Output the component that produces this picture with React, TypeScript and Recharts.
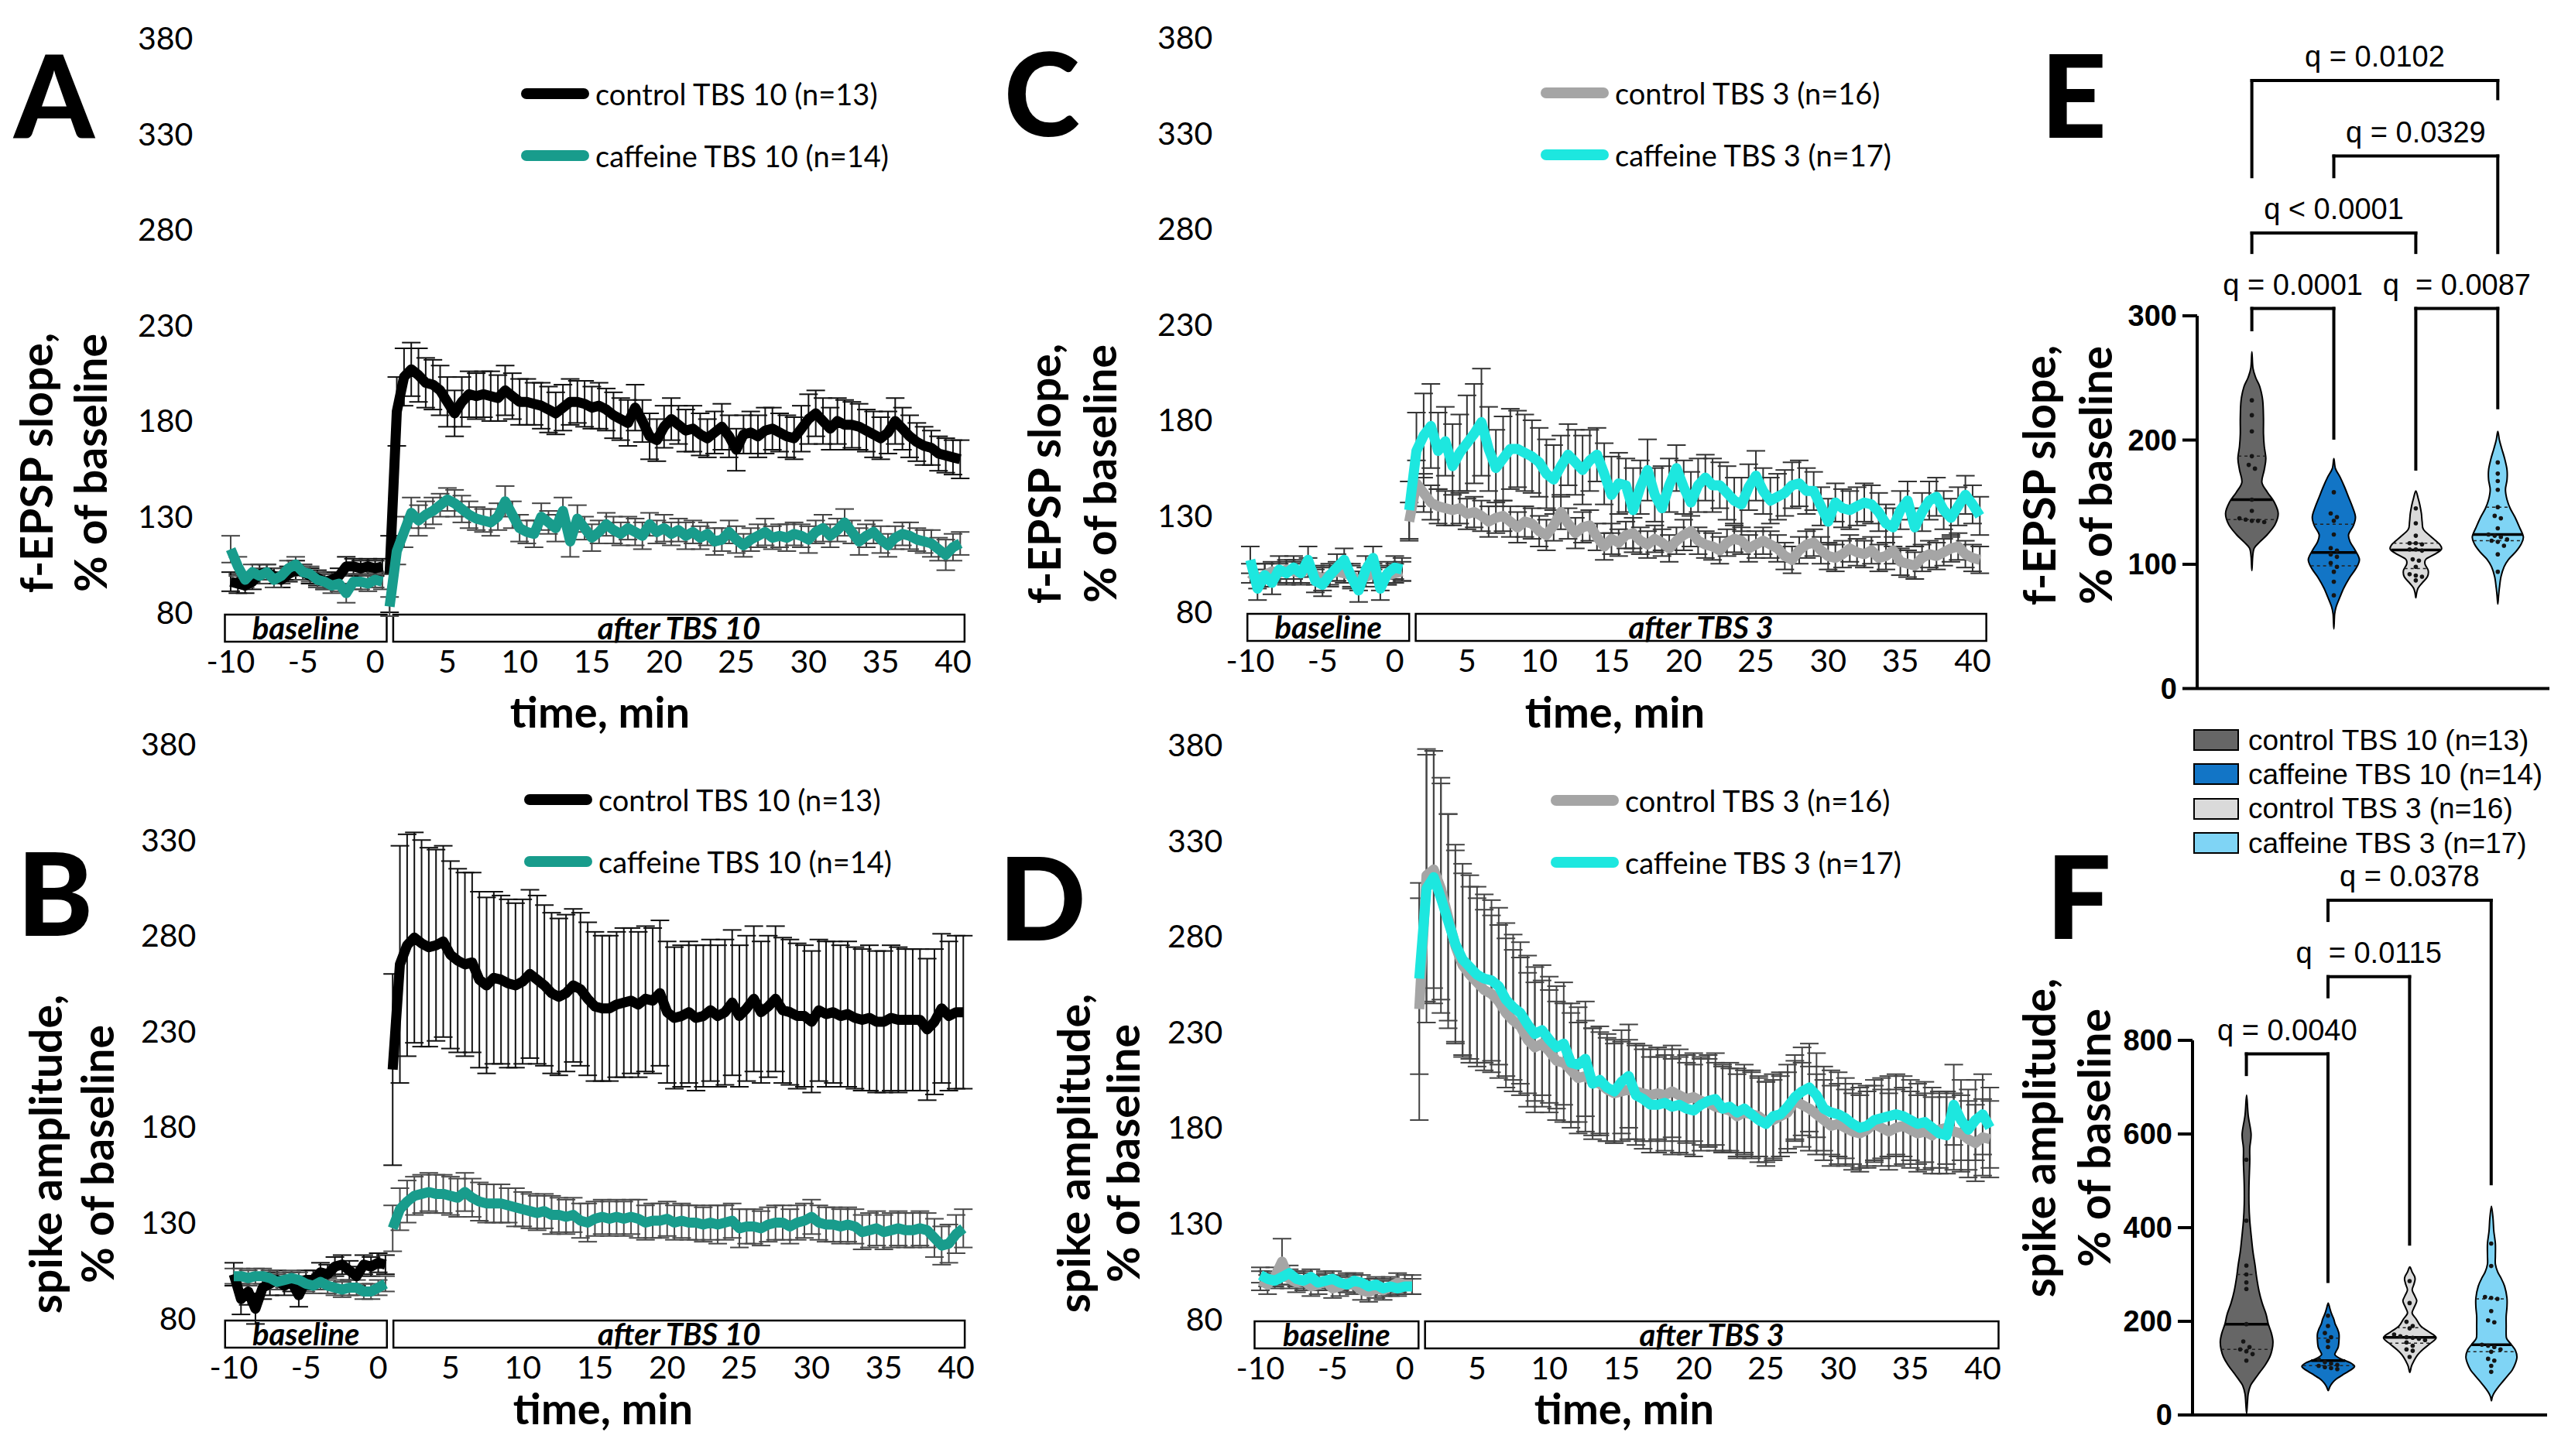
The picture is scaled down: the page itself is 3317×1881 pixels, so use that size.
import {
  ComposedChart, Line, ErrorBar, XAxis, YAxis, ReferenceArea, ReferenceLine,
  Bar, Scatter, Legend,
} from 'recharts'

const LATO = 'Lato, "Open Sans", sans-serif'
const ARIAL = '"Liberation Sans", Arial, sans-serif'

const TEAL = '#189C8C'
const CYAN = '#1DE7DF'
const GREY = '#A5A5A5'
const V_DARK = '#666666'
const V_BLUE = '#1275C6'
const V_LIGHT = '#DADADA'
const V_SKY = '#7FD4F5'

const NAME_C10 = 'control TBS 10 (n=13)'
const NAME_F10 = 'caffeine TBS 10 (n=14)'
const NAME_C3 = 'control TBS 3 (n=16)'
const NAME_F3 = 'caffeine TBS 3 (n=17)'

// 30-s sampling: baseline block, then the post-TBS block
const BASE_T = Array.from({ length: 22 }, (_, i) => -10 + i * 0.5)
const POST_T = Array.from({ length: 80 }, (_, i) => 1 + i * 0.5)
const X_TICKS = [-10, -5, 0, 5, 10, 15, 20, 25, 30, 35, 40]
const Y_TICKS = [80, 130, 180, 230, 280, 330, 380]

// ---- A: f-EPSP slope, TBS 10 ----
const A_CTRL_BASE = [96, 95, 94, 96, 100, 101, 99, 97, 100, 102, 101, 99, 98, 96, 97, 99, 104, 104, 103, 104, 103, 104]
const A_CTRL_BASE_ERR = [5, 5, 4, 4, 5, 4, 4, 4, 4, 5, 4, 4, 4, 4, 4, 4, 5, 4, 4, 4, 4, 4]
const A_CTRL_POST = [
  100, 185, 203, 207, 204, 200, 199, 196, 190, 184,
  190, 194, 193, 194, 193, 192, 196, 193, 190, 190,
  189, 188, 186, 184, 187, 190, 190, 189, 187, 188,
  186, 183, 181, 179, 187, 180, 172, 170, 177, 181,
  178, 175, 176, 173, 171, 174, 177, 172, 165, 173,
  174, 172, 175, 176, 174, 172, 171, 176, 181, 184,
  180, 176, 180, 178, 178, 177, 175, 173, 171, 174,
  180, 176, 172, 169, 167, 166, 163, 162, 161, 160,
]
const A_CTRL_POST_ERR = [
  20, 18, 15, 14, 14, 13, 13, 13, 13, 12,
  13, 12, 12, 12, 13, 12, 13, 12, 12, 12,
  11, 12, 12, 11, 12, 12, 11, 12, 11, 12,
  11, 12, 11, 12, 12, 11, 12, 11, 11, 11,
  10, 11, 12, 11, 10, 11, 12, 11, 11, 10,
  11, 11, 12, 11, 10, 11, 11, 12, 13, 12,
  12, 11, 12, 13, 12, 12, 11, 12, 11, 11,
  12, 11, 11, 10, 10, 9, 9, 9, 9, 10,
]
const A_CAF_BASE = [113, 104, 97, 101, 99, 101, 97, 99, 103, 105, 101, 100, 97, 96, 94, 95, 90, 96, 96, 95, 97, 96]
const A_CAF_BASE_ERR = [7, 5, 4, 4, 4, 4, 4, 4, 4, 4, 4, 4, 4, 4, 4, 4, 5, 4, 4, 4, 4, 4]
const A_CAF_POST = [
  83, 112, 122, 132, 128, 131, 133, 136, 139, 137,
  134, 131, 129, 128, 127, 130, 138, 131, 124, 122,
  121, 130, 127, 124, 133, 117, 129, 124, 119, 122,
  126, 123, 121, 124, 122, 120, 126, 122, 124, 121,
  123, 120, 122, 119, 121, 117, 118, 122, 118, 115,
  118, 120, 122, 119, 120, 119, 121, 120, 118, 122,
  124, 120, 123, 127, 122, 117, 120, 122, 118, 115,
  119, 121, 120, 118, 117, 116, 113, 110, 114, 116,
]
const A_CAF_POST_ERR = [
  5, 7, 8, 8, 8, 7, 7, 6, 6, 7,
  7, 7, 6, 6, 7, 7, 8, 7, 7, 6,
  7, 7, 6, 7, 7, 8, 7, 6, 7, 6,
  6, 7, 6, 6, 7, 7, 6, 6, 7, 6,
  6, 7, 6, 6, 6, 7, 6, 6, 7, 6,
  6, 6, 7, 6, 6, 7, 6, 6, 7, 6,
  7, 6, 6, 7, 6, 7, 6, 6, 7, 6,
  6, 6, 7, 6, 6, 7, 6, 8, 7, 6,
]

// ---- B: spike amplitude, TBS 10 ----
const B_CTRL_BASE = [103, 90, 94, 85, 96, 98, 100, 97, 99, 92, 100, 100, 104, 103, 107, 108, 105, 102, 108, 107, 109, 108]
const B_CTRL_BASE_ERR = [6, 8, 7, 8, 6, 6, 5, 5, 5, 6, 5, 5, 5, 5, 5, 5, 5, 5, 5, 5, 5, 5]
const B_CTRL_POST = [
  210, 265, 275, 279, 276, 274, 275, 277, 270, 267,
  265, 266, 257, 254, 258, 257, 255, 254, 256, 260,
  257, 254, 250, 248, 250, 254, 252, 247, 243, 242,
  242, 244, 245, 246, 244, 247, 246, 250, 240, 237,
  238, 240, 237, 238, 241, 238, 240, 245, 238, 242,
  247, 240, 243, 247, 241, 240, 238, 238, 235, 241,
  239, 240, 238, 239, 237, 236, 237, 235, 235, 237,
  236, 236, 236, 236, 231, 235, 242, 238, 240, 240,
]
const B_CTRL_POST_ERR = [
  50, 62, 58, 55, 54, 52, 50, 50, 49, 48,
  48, 47, 46, 46, 45, 44, 44, 43, 43, 44,
  44, 42, 42, 41, 41, 40, 40, 40, 39, 38,
  38, 38, 39, 38, 38, 38, 38, 38, 37, 37,
  37, 37, 38, 37, 37, 37, 38, 38, 37, 38,
  38, 37, 37, 38, 38, 38, 38, 37, 37, 37,
  38, 37, 37, 38, 37, 37, 38, 37, 37, 38,
  38, 37, 37, 37, 37, 38, 39, 39, 40, 40,
]
const B_CAF_BASE = [102, 102, 101, 102, 102, 101, 99, 100, 101, 100, 98, 97, 99, 97, 96, 95, 96, 96, 94, 94, 96, 98]
const B_CAF_BASE_ERR = [4, 4, 4, 4, 4, 4, 4, 4, 4, 4, 4, 4, 4, 4, 4, 4, 4, 4, 4, 4, 4, 4]
const B_CAF_POST = [
  127, 137, 141, 144, 145, 146, 145, 145, 144, 143,
  146, 143, 141, 140, 140, 140, 139, 138, 137, 136,
  135, 136, 134, 134, 133, 134, 131, 130, 132, 133,
  132, 133, 132, 133, 132, 130, 131, 131, 132, 130,
  131, 130, 130, 129, 130, 129, 130, 131, 127, 128,
  128, 127, 129, 130, 130, 128, 130, 131, 133, 130,
  129, 129, 128, 129, 128, 125, 126, 127, 125, 126,
  127, 126, 126, 127, 126, 122, 118, 119, 124, 127,
]
const B_CAF_POST_ERR = [
  12, 11, 11, 10, 10, 10, 10, 10, 10, 10,
  10, 10, 10, 10, 10, 10, 9, 10, 9, 9,
  9, 9, 10, 9, 9, 9, 9, 10, 9, 9,
  9, 9, 9, 9, 10, 9, 9, 9, 9, 9,
  9, 9, 9, 9, 9, 10, 9, 9, 10, 9,
  9, 9, 9, 9, 9, 9, 9, 9, 9, 9,
  9, 9, 9, 9, 9, 9, 9, 9, 9, 9,
  9, 9, 9, 9, 9, 10, 10, 10, 10, 10,
]

// ---- C: f-EPSP slope, TBS 3 ----
const C_CTRL_BASE = [100, 97, 99, 101, 100, 102, 101, 100, 103, 99, 97, 99, 101, 100, 99, 96, 98, 100, 97, 99, 100, 101]
const C_CTRL_BASE_ERR = [5, 5, 6, 5, 5, 5, 6, 5, 5, 5, 6, 5, 5, 5, 6, 5, 5, 5, 6, 5, 5, 5]
const C_CTRL_POST = [
  127, 147, 142, 137, 135, 134, 133, 134, 131, 132,
  130, 127, 129, 130, 127, 124, 127, 126, 122, 120,
  125, 132, 126, 121, 124, 125, 119, 114, 118, 116,
  120, 121, 117, 115, 118, 116, 113, 117, 120, 122,
  117, 115, 114, 112, 116, 118, 117, 113, 115, 117,
  115, 113, 109, 107, 112, 115, 116, 112, 109, 108,
  110, 113, 111, 110, 112, 108, 109, 112, 106, 105,
  104, 108, 110, 109, 111, 113, 114, 110, 108, 107,
]
const C_CTRL_POST_ERR = [
  10, 12, 10, 9, 9, 9, 8, 8, 8, 8,
  8, 8, 8, 8, 8, 8, 8, 8, 8, 8,
  8, 9, 8, 8, 8, 8, 7, 7, 8, 7,
  7, 8, 7, 7, 7, 7, 7, 7, 8, 8,
  7, 7, 7, 7, 7, 7, 7, 7, 7, 7,
  7, 7, 7, 7, 7, 7, 7, 7, 7, 7,
  7, 7, 7, 7, 7, 7, 7, 7, 7, 7,
  7, 7, 7, 7, 7, 7, 7, 7, 7, 7,
]
const C_CAF_BASE = [107, 92, 99, 95, 102, 100, 103, 100, 107, 96, 94, 99, 103, 107, 98, 91, 102, 108, 92, 100, 103, 102]
const C_CAF_BASE_ERR = [7, 6, 6, 6, 7, 6, 6, 6, 7, 6, 6, 6, 7, 6, 6, 6, 7, 6, 6, 6, 6, 6]
const C_CAF_POST = [
  133, 164, 172, 177, 164, 169, 156, 163, 168, 173,
  179, 165, 155, 160, 165, 165, 163, 161, 158, 152,
  149, 156, 162, 158, 154, 159, 162, 152, 141, 147,
  146, 133, 145, 154, 141, 134, 146, 155, 145, 137,
  146, 150, 146, 146, 142, 138, 136, 145, 151, 143,
  138, 140, 142, 146, 147, 143, 143, 135, 127, 137,
  134, 133, 135, 137, 136, 132, 126, 124, 133, 138,
  124, 132, 138, 140, 133, 129, 135, 141, 136, 130,
]
const C_CAF_POST_ERR = [
  15, 20, 22, 22, 20, 18, 22, 20, 25, 26,
  28, 22, 20, 22, 21, 20, 20, 19, 18, 18,
  18, 16, 16, 17, 18, 16, 14, 16, 20, 16,
  14, 22, 14, 16, 14, 22, 14, 12, 14, 16,
  14, 12, 14, 12, 14, 12, 14, 12, 13, 12,
  12, 12, 12, 12, 12, 12, 10, 10, 12, 10,
  10, 10, 10, 10, 10, 10, 10, 10, 10, 10,
  10, 10, 10, 10, 10, 10, 10, 10, 10, 10,
]

// ---- D: spike amplitude, TBS 3 ----
const D_CTRL_BASE = [100, 98, 102, 110, 101, 99, 100, 97, 98, 100, 96, 97, 99, 98, 95, 94, 96, 95, 97, 99, 98, 98]
const D_CTRL_BASE_ERR = [5, 5, 5, 12, 5, 5, 5, 5, 5, 5, 5, 5, 5, 5, 5, 5, 5, 5, 5, 5, 5, 5]
const D_CTRL_POST = [
  242, 312, 315, 305, 290, 275, 265, 260, 256, 252,
  250, 246, 240, 236, 233, 226, 222, 224, 220, 215,
  214, 210, 206, 207, 204, 203, 200, 198, 199, 200,
  199, 198, 197, 198, 197, 199, 197, 195, 196, 194,
  193, 191, 190, 189, 186, 188, 187, 186, 183, 184,
  186, 188, 194, 192, 190, 187, 184, 181, 182, 180,
  178, 177, 179, 182, 180, 178, 180, 181, 179, 177,
  178, 176, 179, 180, 178, 177, 174, 172, 175, 174,
]
const D_CTRL_POST_ERR = [
  58, 66, 62, 58, 54, 50, 48, 46, 44, 42,
  41, 40, 39, 37, 36, 35, 34, 33, 32, 31,
  31, 30, 29, 29, 28, 27, 27, 26, 26, 26,
  25, 25, 24, 24, 24, 24, 24, 23, 23, 23,
  23, 23, 22, 22, 22, 22, 22, 21, 21, 21,
  21, 21, 21, 22, 22, 21, 21, 21, 21, 20,
  20, 20, 20, 20, 20, 20, 20, 20, 20, 20,
  20, 20, 20, 19, 20, 20, 20, 20, 20, 20,
]
const D_CAF_BASE = [103, 101, 100, 102, 104, 101, 100, 102, 99, 100, 101, 99, 98, 100, 99, 97, 98, 96, 97, 96, 97, 97]
const D_CAF_BASE_ERR = [4, 4, 4, 4, 4, 4, 4, 4, 4, 4, 4, 4, 4, 4, 4, 4, 4, 4, 4, 4, 4, 4]
const D_CAF_POST = [
  258, 305, 311, 300, 288, 276, 268, 264, 260, 258,
  257, 254, 247, 243, 240, 234, 229, 231, 226, 222,
  224, 214, 213, 216, 203, 205, 201, 199, 204, 207,
  197, 195, 192, 192, 193, 191, 192, 190, 189, 192,
  194, 195, 190, 191, 188, 190, 187, 184, 182, 186,
  187, 191, 196, 199, 201, 197, 190, 188, 187, 185,
  182, 180, 181, 184, 185, 186, 187, 186, 184, 182,
  183, 180, 177, 176, 192, 184, 179, 184, 187, 180,
]
const D_CAF_POST_ERR = [
  50, 70, 66, 60, 56, 52, 50, 48, 46, 44,
  42, 41, 40, 38, 37, 36, 35, 34, 33, 32,
  32, 31, 30, 30, 29, 28, 28, 27, 27, 27,
  26, 26, 25, 25, 25, 25, 25, 24, 24, 24,
  24, 24, 23, 23, 23, 23, 23, 22, 22, 22,
  22, 22, 22, 23, 23, 22, 22, 22, 22, 21,
  21, 21, 21, 21, 21, 21, 21, 21, 21, 21,
  21, 21, 21, 20, 21, 21, 21, 21, 21, 21,
]

// ---- E / F: per-slice values, % of baseline ----
const E_CTRL10 = [232, 220, 207, 187, 180, 177, 152, 143, 137, 136, 135, 135, 134]
const E_CAF10 = [158, 141, 138, 135, 124, 113, 111, 108, 106, 101, 98, 94, 86, 75]
const E_CTRL3 = [145, 133, 123, 117, 117, 116, 112, 112, 111, 104, 103, 98, 92, 91, 90, 87]
const E_CAF3 = [182, 173, 167, 160, 146, 139, 137, 129, 124, 123, 122, 120, 119, 118, 115, 108, 94]
const F_CTRL10 = [545, 415, 319, 300, 283, 269, 194, 157, 145, 140, 136, 130, 116]
const F_CAF10 = [212, 190, 175, 166, 158, 145, 119, 113, 110, 107, 105, 102, 100, 98]
const F_CTRL3 = [286, 239, 199, 190, 185, 172, 168, 166, 165, 163, 160, 155, 148, 140, 137, 124]
const F_CAF3 = [366, 318, 252, 250, 248, 222, 202, 198, 150, 148, 145, 140, 135, 120, 116, 105, 92]

// violin outlines: [value, relative density], top to bottom
const E_CTRL10_KDE = [[271, 0], [258, 0.04], [250, 0.15], [243, 0.3], [232, 0.41], [218, 0.44], [205, 0.44], [195, 0.47], [185, 0.53], [176, 0.47], [166, 0.38], [158, 0.59], [150, 0.85], [141, 1], [132, 0.88], [124, 0.59], [118, 0.3], [113, 0.09], [106, 0.03], [95, 0]]
const E_CAF10_KDE = [[185, 0], [177, 0.06], [170, 0.24], [162, 0.41], [154, 0.56], [146, 0.71], [138, 0.82], [131, 0.74], [124, 0.56], [118, 0.62], [112, 0.79], [104, 0.97], [97, 0.85], [89, 0.59], [81, 0.38], [74, 0.24], [66, 0.09], [60, 0.03], [48, 0]]
const E_CTRL3_KDE = [[159, 0], [153, 0.09], [148, 0.15], [141, 0.21], [134, 0.24], [128, 0.29], [122, 0.59], [116, 0.91], [112, 0.97], [108, 0.71], [104, 0.38], [100, 0.35], [95, 0.47], [90, 0.44], [85, 0.24], [81, 0.09], [77, 0.03], [73, 0]]
const E_CAF3_KDE = [[207, 0], [200, 0.06], [193, 0.15], [185, 0.26], [176, 0.35], [168, 0.35], [160, 0.29], [152, 0.35], [145, 0.47], [138, 0.65], [130, 0.82], [122, 0.97], [116, 0.88], [110, 0.68], [104, 0.41], [98, 0.24], [90, 0.12], [81, 0.06], [75, 0.03], [68, 0]]
const F_CTRL10_KDE = [[683, 0], [640, 0.06], [600, 0.17], [570, 0.12], [540, 0.12], [490, 0.09], [450, 0.09], [415, 0.12], [380, 0.18], [349, 0.24], [320, 0.32], [294, 0.38], [265, 0.47], [239, 0.59], [215, 0.74], [195, 0.82], [175, 0.94], [157, 1], [140, 0.97], [124, 0.88], [107, 0.71], [91, 0.5], [75, 0.29], [63, 0.15], [45, 0.06], [25, 0.03], [3, 0]]
const F_CAF10_KDE = [[239, 0], [228, 0.06], [217, 0.12], [205, 0.21], [195, 0.26], [184, 0.35], [173, 0.41], [160, 0.41], [145, 0.38], [135, 0.29], [128, 0.26], [120, 0.47], [112, 0.82], [104, 1], [96, 0.85], [85, 0.53], [76, 0.29], [68, 0.15], [60, 0.06], [52, 0]]
const F_CTRL3_KDE = [[316, 0], [305, 0.09], [296, 0.18], [289, 0.2], [278, 0.15], [267, 0.09], [255, 0.18], [245, 0.26], [239, 0.24], [228, 0.15], [217, 0.09], [205, 0.24], [190, 0.41], [178, 0.71], [165, 1], [152, 0.76], [140, 0.5], [128, 0.29], [115, 0.15], [104, 0.06], [91, 0]]
const F_CAF3_KDE = [[446, 0], [420, 0.06], [393, 0.09], [366, 0.15], [340, 0.15], [322, 0.15], [305, 0.24], [294, 0.35], [275, 0.5], [250, 0.59], [230, 0.59], [211, 0.56], [190, 0.56], [170, 0.56], [162, 0.59], [150, 0.76], [138, 0.91], [124, 0.97], [110, 0.91], [96, 0.79], [82, 0.59], [68, 0.38], [56, 0.21], [46, 0.09], [38, 0.03], [30, 0]]

const GROUP_NAMES = [NAME_C10, NAME_F10, NAME_C3, NAME_F3]
const GROUP_COLORS = [V_DARK, V_BLUE, V_LIGHT, V_SKY]

// significance brackets: groups a..b, bar height, leg ends
const E_BRACKETS = [
  { a: 0, b: 3, top: 489.4, la: 412, lb: 474.8, text: 'q = 0.0102' },
  { a: 1, b: 3, top: 428.6, la: 412, lb: 351, text: 'q = 0.0329' },
  { a: 0, b: 2, top: 366.7, la: 351, lb: 351, text: 'q < 0.0001' },
  { a: 0, b: 1, top: 305.9, la: 288.8, lb: 201.6, text: 'q = 0.0001' },
  { a: 2, b: 3, top: 305.9, la: 176.6, lb: 226, text: 'q\u00a0\u00a0= 0.0087' },
]
const F_BRACKETS = [
  { a: 1, b: 3, top: 1099, la: 1056, lb: 494, text: 'q = 0.0378' },
  { a: 1, b: 2, top: 936, la: 893, lb: 365, text: 'q\u00a0\u00a0= 0.0115' },
  { a: 0, b: 1, top: 771, la: 727, lb: 285, text: 'q = 0.0040' },
]

type Row = Record<string, number | undefined>

function buildRows(ctrl: number[][], caf: number[][]): Row[] {
  const rows: Row[] = BASE_T.map((t, i) => ({
    t, ctrl: ctrl[0][i], ctrlErr: ctrl[1][i], caf: caf[0][i], cafErr: caf[1][i],
  }))
  rows.push({ t: 0.75 }) // break between recording blocks
  POST_T.forEach((t, i) => rows.push({
    t, ctrl: ctrl[2][i], ctrlErr: ctrl[3][i], caf: caf[2][i], cafErr: caf[3][i],
  }))
  return rows
}

type Series = { key: string; name: string; color: string; err: string }

const PANELS = [
  {
    id: 'A', left: 0, top: 0, boxes: [[-10.4, 0.8], [1.25, 40.8]], after: 'after TBS 10',
    series: [
      { key: 'ctrl', name: NAME_C10, color: '#000000', err: '#111111' },
      { key: 'caf', name: NAME_F10, color: TEAL, err: '#454545' },
    ],
    rows: buildRows([A_CTRL_BASE, A_CTRL_BASE_ERR, A_CTRL_POST, A_CTRL_POST_ERR], [A_CAF_BASE, A_CAF_BASE_ERR, A_CAF_POST, A_CAF_POST_ERR]),
  },
  {
    id: 'B', left: 4, top: 912, boxes: [[-10.6, 0.6], [1.05, 40.6]], after: 'after TBS 10',
    series: [
      { key: 'ctrl', name: NAME_C10, color: '#000000', err: '#111111' },
      { key: 'caf', name: NAME_F10, color: TEAL, err: '#4a4a4a' },
    ],
    rows: buildRows([B_CTRL_BASE, B_CTRL_BASE_ERR, B_CTRL_POST, B_CTRL_POST_ERR], [B_CAF_BASE, B_CAF_BASE_ERR, B_CAF_POST, B_CAF_POST_ERR]),
  },
  {
    id: 'C', left: 1317, top: -1, boxes: [[-10.2, 1.0], [1.45, 40.95]], after: 'after TBS 3',
    series: [
      { key: 'ctrl', name: NAME_C3, color: GREY, err: '#333333' },
      { key: 'caf', name: NAME_F3, color: CYAN, err: '#333333' },
    ],
    rows: buildRows([C_CTRL_BASE, C_CTRL_BASE_ERR, C_CTRL_POST, C_CTRL_POST_ERR], [C_CAF_BASE, C_CAF_BASE_ERR, C_CAF_POST, C_CAF_POST_ERR]),
  },
  {
    id: 'D', left: 1330, top: 913, boxes: [[-10.4, 0.95], [1.4, 41.1]], after: 'after TBS 3',
    series: [
      { key: 'ctrl', name: NAME_C3, color: GREY, err: '#444444' },
      { key: 'caf', name: NAME_F3, color: CYAN, err: '#444444' },
    ],
    rows: buildRows([D_CTRL_BASE, D_CTRL_BASE_ERR, D_CTRL_POST, D_CTRL_POST_ERR], [D_CAF_BASE, D_CAF_BASE_ERR, D_CAF_POST, D_CAF_POST_ERR]),
  },
]

const tickStyle = { fill: '#000', fontSize: 41, fontFamily: LATO }
const boxLabel = (value: string) => ({
  value, position: 'center' as const, fill: '#000', fontSize: 40, fontFamily: LATO,
  fontStyle: 'italic', fontWeight: 700,
})

// legend rows follow the series order (control first)
function LineLegend({ items }: { items: Series[] }) {
  return (
    <div>
      {items.map(p => (
        <div key={p.name} style={{ display: 'flex', alignItems: 'center', height: 80 }}>
          <svg width={90} height={20}>
            <line x1={8} y1={10} x2={82} y2={10} stroke={p.color} strokeWidth={14} strokeLinecap="round" />
          </svg>
          <span style={{ fontFamily: LATO, fontSize: 38, color: '#000', marginLeft: 7, whiteSpace: 'nowrap', lineHeight: 1 }}>
            {p.name}
          </span>
        </div>
      ))}
    </div>
  )
}

function TimePanel({ panel }: { panel: (typeof PANELS)[number] }) {
  return (
    <div style={{ position: 'absolute', left: panel.left, top: panel.top }}>
      <ComposedChart width={1300} height={940} data={panel.rows}
        margin={{ top: 49.7, right: 50.4, bottom: 44.5, left: 179.3 }}>
        <XAxis type="number" dataKey="t" domain={[-11, 41]} ticks={X_TICKS} interval={0} allowDataOverflow
          axisLine={false} tickLine={false} tickSize={0} tickMargin={4} height={60} tick={tickStyle} />
        <YAxis type="number" domain={[62, 380]} ticks={Y_TICKS} interval={0} allowDataOverflow
          axisLine={false} tickLine={false} tickSize={0} tickMargin={30} width={100} tick={tickStyle} />
        <ReferenceArea x1={panel.boxes[0][0]} x2={panel.boxes[0][1]} y1={64.6} y2={78.8} ifOverflow="visible"
          fill="#fff" fillOpacity={1} stroke="#000" strokeWidth={2.5} label={boxLabel('baseline')} />
        <ReferenceArea x1={panel.boxes[1][0]} x2={panel.boxes[1][1]} y1={64.6} y2={78.8} ifOverflow="visible"
          fill="#fff" fillOpacity={1} stroke="#000" strokeWidth={2.5} label={boxLabel(panel.after)} />
        {panel.series.map(s => (
          <Line key={s.key + '-sem'} dataKey={s.key} stroke="none" dot={false} activeDot={false}
            legendType="none" isAnimationActive={false}>
            <ErrorBar dataKey={s.key + 'Err'} width={12} strokeWidth={2} stroke={s.err} />
          </Line>
        ))}
        {panel.series.map(s => (
          <Line key={s.key} dataKey={s.key} name={s.name} stroke={s.color} strokeWidth={13}
            strokeLinejoin="round" dot={false} activeDot={false} isAnimationActive={false} />
        ))}
        <Legend layout="horizontal" verticalAlign="middle" align="center"
          content={() => <LineLegend items={panel.series} />}
          wrapperStyle={{ left: 672, top: 81, width: 'auto', height: 'auto' }} />
      </ComposedChart>
    </div>
  )
}

// ---- violin helpers ----
function quantile(values: number[], p: number) {
  const a = [...values].sort((x, y) => x - y)
  const idx = (a.length - 1) * p
  const lo = Math.floor(idx)
  const hi = Math.ceil(idx)
  return a[lo] + (a[hi] - a[lo]) * (idx - lo)
}

function densityAt(kde: number[][], v: number) {
  for (let i = 0; i < kde.length - 1; i++) {
    const [v0, d0] = kde[i]
    const [v1, d1] = kde[i + 1]
    if (v <= v0 && v >= v1) return d0 + (d1 - d0) * (v0 - v) / (v0 - v1)
  }
  return 0
}

function closedCurve(pts: number[][]) {
  const n = pts.length
  let d = `M${pts[0][0]},${pts[0][1]}`
  for (let i = 0; i < n; i++) {
    const p0 = pts[(i - 1 + n) % n]
    const p1 = pts[i]
    const p2 = pts[(i + 1) % n]
    const p3 = pts[(i + 2) % n]
    const c1x = p1[0] + (p2[0] - p0[0]) / 6
    const c1y = p1[1] + (p2[1] - p0[1]) / 6
    const c2x = p2[0] - (p3[0] - p1[0]) / 6
    const c2y = p2[1] - (p3[1] - p1[1]) / 6
    d += `C${c1x},${c1y} ${c2x},${c2y} ${p2[0]},${p2[1]}`
  }
  return d + 'Z'
}

function ViolinShape(props: any) {
  const { x, y, width, height, payload } = props
  const kde: number[][] = payload.profile
  const hi = kde[0][0]
  const lo = kde[kde.length - 1][0]
  const top = Math.min(y, y + height)
  const h = Math.abs(height)
  const cx = x + width / 2
  const half = width / 2
  const py = (v: number) => top + (h * (hi - v)) / (hi - lo)
  const right = kde.map(([v, d]) => [cx + d * half, py(v)])
  const left = kde.slice(1, -1).reverse().map(([v, d]) => [cx - d * half, py(v)])
  const vals: number[] = payload.values
  const med = quantile(vals, 0.5)
  const quarts = [quantile(vals, 0.25), quantile(vals, 0.75)]
  const span = (v: number) => densityAt(kde, v) * half
  return (
    <g>
      <path d={closedCurve([...right, ...left])} fill={payload.color} stroke="#000" strokeWidth={2} />
      {quarts.map((q, i) => (
        <line key={i} x1={cx - span(q)} x2={cx + span(q)} y1={py(q)} y2={py(q)}
          stroke="#222" strokeWidth={1.5} strokeDasharray="4 4" />
      ))}
      <line x1={cx - span(med)} x2={cx + span(med)} y1={py(med)} y2={py(med)} stroke="#000" strokeWidth={3.5} />
    </g>
  )
}

function DotShape(props: any) {
  const { cx, cy, payload } = props
  return <circle cx={cx + payload.dx} cy={cy} r={2.8} fill="#151515" />
}

function spreadDots(groups: number[][], gap: number) {
  return groups.flatMap((vals, pos) => {
    const sorted = [...vals].sort((a, b) => b - a)
    const clusters: number[][] = []
    sorted.forEach(v => {
      const last = clusters[clusters.length - 1]
      if (last && last[0] - v <= gap) last.push(v)
      else clusters.push([v])
    })
    return clusters.flatMap(c => c.map((value, i) => ({ pos, value, dx: (i - (c.length - 1) / 2) * 8 })))
  })
}

function violinRows(groups: number[][], kdes: number[][][]) {
  return groups.map((values, pos) => ({
    pos,
    range: [kdes[pos][kdes[pos].length - 1][0], kdes[pos][0][0]],
    profile: kdes[pos],
    values,
    color: GROUP_COLORS[pos],
  }))
}

const E_GROUPS = [E_CTRL10, E_CAF10, E_CTRL3, E_CAF3]
const F_GROUPS = [F_CTRL10, F_CAF10, F_CTRL3, F_CAF3]
const E_ROWS = violinRows(E_GROUPS, [E_CTRL10_KDE, E_CAF10_KDE, E_CTRL3_KDE, E_CAF3_KDE])
const F_ROWS = violinRows(F_GROUPS, [F_CTRL10_KDE, F_CAF10_KDE, F_CTRL3_KDE, F_CAF3_KDE])
const E_DOTS = spreadDots(E_GROUPS, 4.5)
const F_DOTS = spreadDots(F_GROUPS, 12)

const axisStroke = { stroke: '#000', strokeWidth: 4 }

function GroupLegend() {
  return (
    <div>
      {GROUP_NAMES.map((name, i) => (
        <div key={name} style={{ display: 'flex', alignItems: 'center', height: 44.3 }}>
          <div style={{ width: 55, height: 24, background: GROUP_COLORS[i], border: '2px solid #000' }} />
          <span style={{ fontFamily: ARIAL, fontSize: 37, color: '#000', marginLeft: 12, whiteSpace: 'nowrap', lineHeight: 1 }}>
            {name}
          </span>
        </div>
      ))}
    </div>
  )
}

function brackets(list: typeof E_BRACKETS) {
  return list.flatMap((b, i) => [
    <ReferenceLine key={`l${i}`} segment={[{ x: b.a, y: b.la }, { x: b.a, y: b.top }]} ifOverflow="visible"
      stroke="#000" strokeWidth={4} strokeLinecap="square" />,
    <ReferenceLine key={`t${i}`} segment={[{ x: b.a, y: b.top }, { x: b.b, y: b.top }]} ifOverflow="visible"
      stroke="#000" strokeWidth={4} strokeLinecap="square"
      label={{ value: b.text, position: 'top', offset: 18, fill: '#000', fontSize: 38, fontFamily: ARIAL }} />,
    <ReferenceLine key={`r${i}`} segment={[{ x: b.b, y: b.top }, { x: b.b, y: b.lb }]} ifOverflow="visible"
      stroke="#000" strokeWidth={4} strokeLinecap="square" />,
  ])
}

function ViolinPanel(props: {
  left: number; top: number; width: number; height: number; margin: any
  xDomain: number[]; yMax: number; yTicks: number[]; rows: any[]; dots: any[]
  list: typeof E_BRACKETS; legend?: boolean
}) {
  return (
    <div style={{ position: 'absolute', left: props.left, top: props.top }}>
      <ComposedChart width={props.width} height={props.height} data={props.rows} margin={props.margin}>
        <XAxis type="number" dataKey="pos" domain={props.xDomain} ticks={[0, 1, 2, 3]} interval={0} allowDataOverflow
          height={30} tick={false} tickSize={20} axisLine={axisStroke} tickLine={axisStroke} />
        <YAxis type="number" domain={[0, props.yMax]} ticks={props.yTicks} interval={0} allowDataOverflow
          width={100} tickSize={19} tickMargin={7} axisLine={axisStroke} tickLine={axisStroke}
          tick={{ fill: '#000', fontSize: 38, fontWeight: 700, fontFamily: ARIAL }} />
        <Bar dataKey="range" barSize={68} shape={ViolinShape} legendType="none" isAnimationActive={false} />
        <Scatter data={props.dots} dataKey="value" shape={DotShape} legendType="none" isAnimationActive={false} />
        {brackets(props.list)}
        {props.legend && (
          <Legend layout="horizontal" verticalAlign="middle" align="center" content={GroupLegend}
            wrapperStyle={{ left: 233, top: 34, width: 'auto', height: 'auto' }} />
        )}
      </ComposedChart>
    </div>
  )
}

const LETTERS = [
  { text: 'A', x: 18, y: 179 }, { text: 'B', x: 22, y: 1209 }, { text: 'C', x: 1297, y: 176 },
  { text: 'D', x: 1290, y: 1215 }, { text: 'E', x: 2636, y: 178 }, { text: 'F', x: 2643, y: 1213 },
]
const Y_TITLES = [
  { lines: ['f-EPSP slope,', '% of baseline'], xs: [68, 138], y: 598 },
  { lines: ['spike amplitude,', '% of baseline'], xs: [80, 147], y: 1491 },
  { lines: ['f-EPSP slope,', '% of baseline'], xs: [1370, 1442], y: 612 },
  { lines: ['spike amplitude,', '% of baseline'], xs: [1408, 1472], y: 1490 },
  { lines: ['f-EPSP slope,', '% of baseline'], xs: [2655, 2728], y: 614 },
  { lines: ['spike amplitude,', '% of baseline'], xs: [2655, 2726], y: 1470 },
]
const X_TITLES = [{ x: 775, y: 940 }, { x: 779, y: 1840 }, { x: 2086, y: 940 }, { x: 2098, y: 1840 }]

export default function App() {
  return (
    <div style={{ position: 'absolute', left: 0, top: 0, width: 3317, height: 1881, background: '#fff', overflow: 'hidden' }}>
      {PANELS.map(p => <TimePanel key={p.id} panel={p} />)}
      <ViolinPanel left={2600} top={0} width={717} height={930}
        margin={{ top: 408, right: 24, bottom: 10.5, left: 138 }}
        xDomain={[-0.667, 3.63]} yMax={300} yTicks={[0, 100, 200, 300]}
        rows={E_ROWS} dots={E_DOTS} list={E_BRACKETS} />
      <ViolinPanel left={2600} top={900} width={717} height={981}
        margin={{ top: 444, right: 27, bottom: 23, left: 132 }}
        xDomain={[-0.66, 3.685]} yMax={800} yTicks={[0, 200, 400, 600, 800]}
        rows={F_ROWS} dots={F_DOTS} list={F_BRACKETS} legend />
      <svg width={3317} height={1881} style={{ position: 'absolute', left: 0, top: 0, pointerEvents: 'none' }}>
        {LETTERS.map(l => (
          <text key={l.text} x={l.x} y={l.y} fontFamily={LATO} fontWeight={900} fontSize={148} fill="#000">{l.text}</text>
        ))}
        {Y_TITLES.flatMap((t, i) => t.lines.map((line, j) => (
          <text key={`${i}-${j}`} transform={`translate(${t.xs[j]},${t.y}) rotate(-90)`} textAnchor="middle"
            fontFamily={LATO} fontWeight={700} fontSize={57} fill="#000">{line}</text>
        )))}
        {X_TITLES.map((t, i) => (
          <text key={i} x={t.x} y={t.y} textAnchor="middle" fontFamily={LATO} fontWeight={700} fontSize={56} fill="#000">
            time, min
          </text>
        ))}
      </svg>
    </div>
  )
}
